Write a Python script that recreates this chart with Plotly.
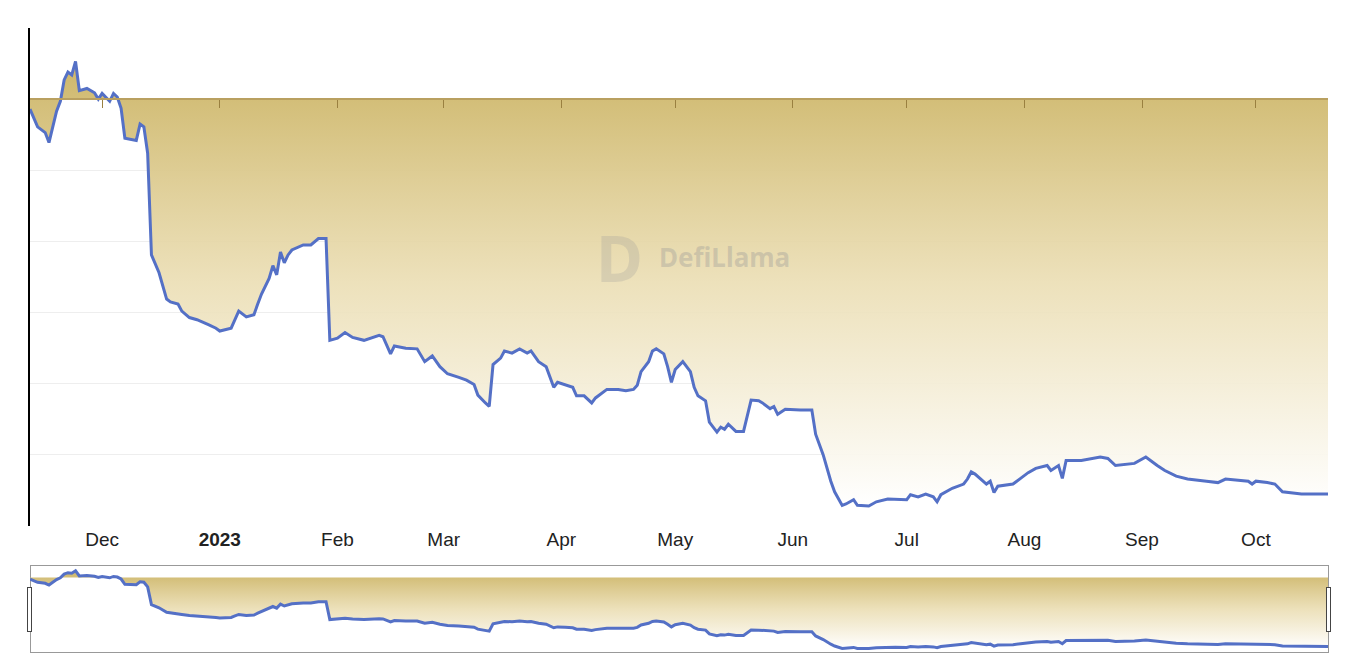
import pandas as pd
import plotly.graph_objects as go

start_date = "2022-11-12"
day_offsets = [0,2,4,5,7,8,9,10,11,12,13,15,17,18,19,21,22,23,24,25,28,29,30,31,32,34,36,37,39,40,42,44,47,49,50,53,54,55,57,59,60,61,63,64,65,66,67,68,69,72,74,76,78,79,81,83,85,88,92,93,95,96,99,102,104,106,108,110,113,115,117,118,120,121,122,124,125,127,129,131,132,134,136,138,139,141,143,144,146,148,149,152,155,157,159,160,161,163,164,165,167,168,169,170,172,174,175,176,178,179,181,182,183,184,186,188,189,190,192,193,195,196,197,199,203,206,207,209,211,212,214,215,217,218,221,223,226,228,231,232,234,236,238,239,240,243,246,247,248,249,252,253,254,255,259,261,263,265,268,269,271,272,273,277,282,284,286,291,294,297,299,302,305,310,313,315,321,322,323,326,328,330,335,342]
tvl = [58.6,56.1,55.3,53.9,58.3,59.7,62.7,63.8,63.4,65.3,61.2,61.5,60.9,60.0,60.8,59.7,60.8,60.3,58.7,54.5,54.2,56.5,56.1,52.4,38.1,35.6,31.9,31.5,31.2,30.2,29.3,29.0,28.3,27.8,27.4,27.8,29.0,30.2,29.4,29.7,31.2,32.6,34.8,36.6,35.3,38.5,37.0,38.1,38.8,39.5,39.5,40.4,40.4,26.1,26.4,27.2,26.5,26.1,26.8,26.6,24.2,25.3,25.0,24.9,23.1,23.9,22.4,21.4,20.9,20.5,19.9,18.4,17.3,16.8,22.7,23.6,24.6,24.3,24.9,24.3,24.6,23.1,22.4,19.5,20.2,19.9,19.5,18.3,18.3,17.3,18.0,19.2,19.2,19.0,19.2,19.8,21.7,23.1,24.6,24.9,24.2,22.4,20.2,22.0,23.1,21.7,19.5,18.3,17.6,14.6,13.2,13.9,13.6,14.3,13.3,13.3,15.4,17.7,17.6,17.3,16.5,16.8,15.7,16.4,16.3,16.3,12.9,10.0,6.3,4.8,2.9,3.1,3.7,2.9,2.8,3.4,3.8,3.8,3.7,4.4,4.1,4.5,4.1,3.4,4.4,5.3,5.9,6.6,7.6,7.3,5.9,6.3,4.7,5.6,5.9,6.7,7.5,8.1,8.5,7.8,8.5,6.7,9.2,9.2,9.7,9.5,8.5,8.8,9.7,8.5,7.8,7.0,6.6,6.3,6.1,6.6,6.3,5.9,6.3,6.1,5.9,4.8,4.5,4.5]
baseline_value = 60.0
tick_dates = ["2022-12-01","2023-01-01","2023-02-01","2023-03-01","2023-04-01","2023-05-01","2023-06-01","2023-07-01","2023-08-01","2023-09-01","2023-10-01"]
tick_labels = ["Dec","<b>2023</b>","Feb","Mar","Apr","May","Jun","Jul","Aug","Sep","Oct"]

dates = pd.to_datetime(start_date) + pd.to_timedelta(day_offsets, unit="D")

fig = go.Figure()
fig.add_trace(go.Scatter(x=dates, y=[baseline_value]*len(dates), mode="lines",
                         line=dict(width=0), hoverinfo="skip", showlegend=False))
fig.add_trace(go.Scatter(x=dates, y=tvl, mode="lines", fill="tonexty",
                         line=dict(color="#5470c6", width=3),
                         fillgradient=dict(type="vertical",
                                           colorscale=[[0, "rgba(255,255,255,0.95)"], [0.5, "rgba(235,222,180,0.9)"], [1, "rgba(205,182,105,1)"]]),
                         showlegend=False))
fig.add_trace(go.Scatter(x=dates, y=tvl, mode="lines", xaxis="x2", line=dict(width=0),
                         hoverinfo="skip", showlegend=False))

font = dict(family="Liberation Sans, Arial, sans-serif", size=19, color="#222")
fig.update_layout(
    width=1354, height=666, paper_bgcolor="white", plot_bgcolor="white",
    margin=dict(l=22, r=34, t=20, b=22),
    font=font,
    xaxis=dict(range=[dates[0], dates[-1]], tickvals=tick_dates, ticktext=tick_labels,
               showgrid=False, ticks="", showline=False, tickfont=font,
               rangeslider=dict(visible=True, thickness=0.14, bgcolor="white",
                                bordercolor="#999", borderwidth=1,
                                yaxis=dict(rangemode="fixed", range=[0, 70]))),
    xaxis2=dict(overlaying="x", matches="x", anchor="free", position=60/70,
                tickvals=tick_dates, showticklabels=False, ticks="outside",
                ticklen=8, tickcolor="#9a8040", showline=True, linecolor="#b9a060",
                linewidth=1.5, showgrid=False),
    yaxis=dict(range=[0, 70], dtick=10, showticklabels=False, gridcolor="#eeeeee",
               showline=True, linecolor="black", linewidth=2, zeroline=False),
)
fig.add_annotation(text="<b>DefiLlama</b>", x=0.5, y=0.54, xref="paper", yref="paper",
                   showarrow=False, font=dict(family="Noto Sans", size=26, color="rgba(150,150,150,0.35)"),
                   xshift=45)
fig.add_annotation(text="<b>D</b>", x=0.5, y=0.54, xref="paper", yref="paper",
                   showarrow=False, font=dict(family="Noto Sans", size=64, color="rgba(150,150,150,0.25)"),
                   xshift=-60)
fig.write_html("out.html")
